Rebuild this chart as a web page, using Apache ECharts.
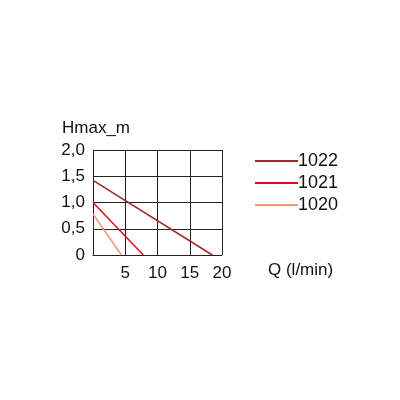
<!DOCTYPE html>
<html>
<head>
<meta charset="utf-8">
<script src="https://cdn.jsdelivr.net/npm/echarts@6/dist/echarts.min.js"></script>
<style>html,body{margin:0;background:#fff}#c{width:400px;height:400px}</style>
</head>
<body>
<div id="c"></div>
<script>
// pump curves: [Q l/min, H m]
var names = ['1022', '1021', '1020'];
var colors = ['#a3262a', '#e30a1e', '#f29878'];
var curve1022 = [[0, 1.42], [18.5, 0]];
var curve1021 = [[0, 1.0], [7.8, 0]];
var curve1020 = [[0, 0.78], [4.4, 0]];
var curves = [curve1022, curve1021, curve1020];

var font = 'Liberation Sans';
var chart = echarts.init(document.getElementById('c'));
chart.setOption({
    animation: false,
    textStyle: { fontFamily: font },
    grid: { left: 93, right: 178, top: 150, bottom: 145 },
    legend: {
        orient: 'vertical',
        left: 250, top: 147,
        itemWidth: 43, itemHeight: 2, itemGap: 4,
        icon: 'rect',
        textStyle: { fontSize: 18, color: '#111', padding: [0, 0, 0, -5] },
        data: names
    },
    graphic: [
        { type: 'text', left: 62, top: 120, style: { text: 'Hmax_m', fontSize: 17, fill: '#111', fontFamily: font } },
        { type: 'text', left: 268, top: 262, style: { text: 'Q (l/min)', fontSize: 17, fill: '#111', fontFamily: font } }
    ],
    xAxis: {
        type: 'value', min: 0, max: 20, interval: 5,
        axisLine: { lineStyle: { color: '#222' } },
        axisTick: { show: false },
        splitLine: { lineStyle: { color: '#222' } },
        axisLabel: { fontSize: 17, color: '#111', margin: 10,
            formatter: function (v) { return v === 0 ? '' : v; } }
    },
    yAxis: {
        type: 'value', min: 0, max: 2, interval: 0.5,
        axisLine: { show: true, lineStyle: { color: '#222' } },
        axisTick: { show: false },
        splitLine: { lineStyle: { color: '#222' } },
        axisLabel: { fontSize: 17, color: '#111', margin: 8,
            formatter: function (v) { return v === 0 ? '0' : v.toFixed(1).replace('.', ','); } }
    },
    series: curves.map(function (d, i) {
        return {
            name: names[i], type: 'line', data: d, symbol: 'none',
            lineStyle: { color: colors[i], width: 1.5 }, itemStyle: { color: colors[i] }
        };
    })
});
</script>
</body>
</html>
